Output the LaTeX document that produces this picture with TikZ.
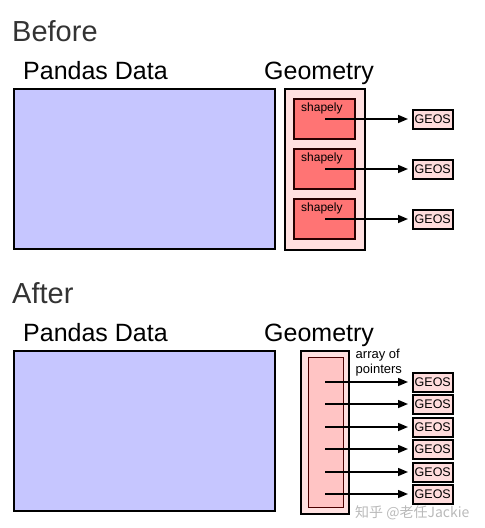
\documentclass[tikz,border=0pt]{standalone}
\usepackage{fontspec}
\setmainfont{Liberation Sans}
\newfontfamily\cjkfont{Noto Sans CJK SC}
\usetikzlibrary{arrows.meta}
\definecolor{dataBlue}{HTML}{C6C6FF}
\definecolor{lightPink}{HTML}{FFE0E0}
\definecolor{shapelyRed}{HTML}{FF7474}
\definecolor{ptrPink}{HTML}{FFC4C4}
\definecolor{geosPink}{HTML}{FFDCDC}
\definecolor{titleGray}{HTML}{333333}
\tikzset{
  box/.style={draw=black, line width=1.8pt, inner sep=0pt, anchor=north west},
  databox/.style={box, fill=dataBlue, minimum width=261pt, minimum height=160pt},
  geombox/.style={box, fill=lightPink},
  shapelybox/.style={draw=black!85!red, line width=1.5pt, fill=shapelyRed, inner sep=0pt, anchor=north west, minimum width=61pt, minimum height=40pt},
  ptrbox/.style={draw=black!70!red, line width=1pt, fill=ptrPink, inner sep=0pt, anchor=north west, minimum width=35pt, minimum height=150pt},
  geos/.style={draw=black, line width=1.5pt, fill=geosPink, inner sep=0pt, anchor=north west, minimum width=40pt, minimum height=19pt, font=\fontsize{12.5}{14}\selectfont},
  title/.style={anchor=base west, inner sep=0pt, text=titleGray, font=\fontsize{29}{32}\selectfont},
  head/.style={anchor=base west, inner sep=0pt, text=black, font=\fontsize{25}{28}\selectfont},
  small/.style={anchor=base west, inner sep=0pt, font=\fontsize{12}{14}\selectfont},
  arr/.style={line width=1.5pt, -{Triangle[length=10pt,width=8pt]}, shorten >=4pt},
}
\begin{document}
\begin{tikzpicture}[x=1pt,y=-1pt]
\useasboundingbox (0,0) rectangle (485,528);
% ---------- Before ----------
\node[title] (before) at (12,41) {Before};
\node[head] (pd1) at (23,79) {Pandas Data};
\node[head] (ge1) at (264,79) {Geometry};
\node[databox] (data1) at (13,88) {};
\node[geombox, minimum width=80pt, minimum height=161pt] (gbox1) at (284,88) {};
\foreach \i/\y in {1/98,2/148,3/198}{
  \node[shapelybox] (sh\i) at (293,\y) {};
  \node[small] (shl\i) at (301,\y+13) {shapely};
  \coordinate (sp\i) at (325,\y+21);
  \node[geos] (g\i) at (412,\y+11) {GEOS};
  \draw[arr] (sp\i) -- (sp\i -| g\i.west);
}
% ---------- After ----------
\node[title] (after) at (12,303) {After};
\node[head] (pd2) at (23,341) {Pandas Data};
\node[head] (ge2) at (264,341) {Geometry};
\node[databox] (data2) at (13,350) {};
\node[geombox, minimum width=48pt, minimum height=163pt] (gbox2) at (300,350) {};
\node[ptrbox] (ptr) at (308,357) {};
\node[small, font=\fontsize{13}{15}\selectfont] (lab1) at (355.5,358) {array of};
\node[small, font=\fontsize{13}{15}\selectfont] (lab2) at (355.5,373) {pointers};
\foreach \i/\y in {1/372,2/394,3/417,4/439,5/462,6/484}{
  \node[geos] (h\i) at (412,\y) {GEOS};
  \coordinate (pp\i) at (325,\y+10);
  \draw[arr] (pp\i) -- (pp\i -| h\i.west);
}
% watermark
\node[anchor=base west, inner sep=0pt, text=gray, opacity=0.55, font=\cjkfont\fontsize{14}{16}\selectfont] (wm) at (355,517) {知乎 @老任Jackie};
\end{tikzpicture}
\end{document}
